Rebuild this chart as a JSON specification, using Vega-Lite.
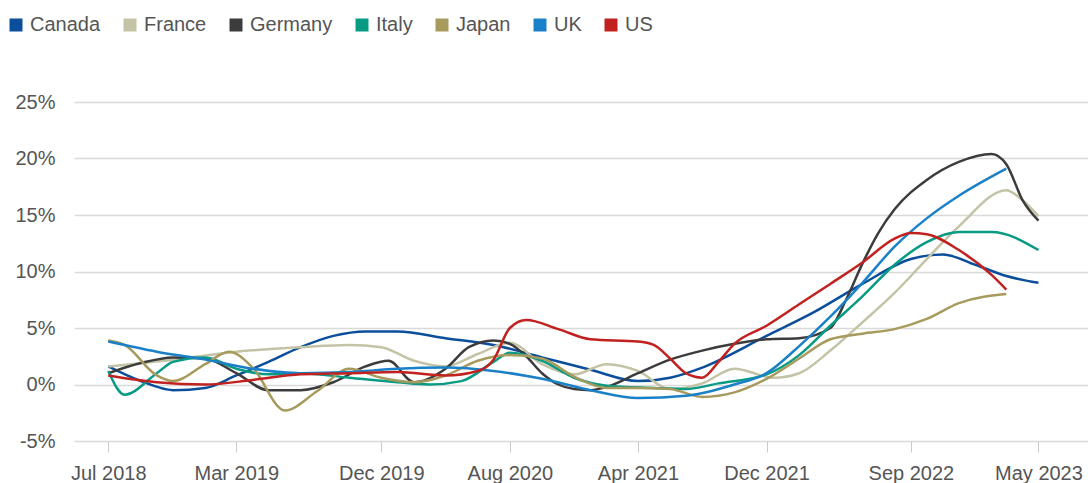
{
  "$schema": "https://vega.github.io/schema/vega-lite/v6.json",
  "width": 1014,
  "height": 339,
  "autosize": {"type": "none"},
  "padding": {"left": 74, "top": 102, "right": 0, "bottom": 42},
  "background": "white",
  "config": {
    "view": {"stroke": null},
    "font": "Liberation Sans",
    "text": {"font": "Liberation Sans"}
  },
  "data": {"values": [
    {"c":"Canada","d":"2018-07-01","v":1.6},
    {"c":"Canada","d":"2018-09-01","v":0.3},
    {"c":"Canada","d":"2018-11-01","v":-0.5},
    {"c":"Canada","d":"2019-01-01","v":-0.3},
    {"c":"Canada","d":"2019-03-01","v":0.8},
    {"c":"Canada","d":"2019-05-01","v":2.0},
    {"c":"Canada","d":"2019-07-01","v":3.3},
    {"c":"Canada","d":"2019-09-01","v":4.3},
    {"c":"Canada","d":"2019-11-01","v":4.7},
    {"c":"Canada","d":"2020-01-01","v":4.7},
    {"c":"Canada","d":"2020-04-01","v":4.1},
    {"c":"Canada","d":"2020-07-01","v":3.5},
    {"c":"Canada","d":"2020-10-01","v":2.4},
    {"c":"Canada","d":"2021-01-01","v":1.3},
    {"c":"Canada","d":"2021-04-01","v":0.3},
    {"c":"Canada","d":"2021-06-01","v":0.6},
    {"c":"Canada","d":"2021-08-01","v":1.5},
    {"c":"Canada","d":"2021-12-01","v":4.3},
    {"c":"Canada","d":"2022-03-01","v":6.4},
    {"c":"Canada","d":"2022-06-01","v":8.9},
    {"c":"Canada","d":"2022-09-01","v":11.1},
    {"c":"Canada","d":"2022-11-01","v":11.5},
    {"c":"Canada","d":"2023-01-01","v":10.6},
    {"c":"Canada","d":"2023-03-01","v":9.6},
    {"c":"Canada","d":"2023-05-01","v":9.0},

    {"c":"France","d":"2018-07-01","v":1.6},
    {"c":"France","d":"2018-11-01","v":2.2},
    {"c":"France","d":"2019-03-01","v":2.9},
    {"c":"France","d":"2019-07-01","v":3.3},
    {"c":"France","d":"2019-10-01","v":3.5},
    {"c":"France","d":"2019-12-01","v":3.3},
    {"c":"France","d":"2020-02-01","v":2.1},
    {"c":"France","d":"2020-04-01","v":1.6},
    {"c":"France","d":"2020-06-01","v":2.7},
    {"c":"France","d":"2020-08-01","v":3.7},
    {"c":"France","d":"2020-10-01","v":1.8},
    {"c":"France","d":"2020-12-01","v":0.9},
    {"c":"France","d":"2021-02-01","v":1.8},
    {"c":"France","d":"2021-04-01","v":1.2},
    {"c":"France","d":"2021-06-01","v":-0.4},
    {"c":"France","d":"2021-08-01","v":0.1},
    {"c":"France","d":"2021-10-01","v":1.4},
    {"c":"France","d":"2021-12-15","v":0.6},
    {"c":"France","d":"2022-02-01","v":1.0},
    {"c":"France","d":"2022-04-01","v":3.0},
    {"c":"France","d":"2022-06-01","v":5.5},
    {"c":"France","d":"2022-08-01","v":8.1},
    {"c":"France","d":"2022-10-01","v":11.1},
    {"c":"France","d":"2022-12-01","v":14.0},
    {"c":"France","d":"2023-03-01","v":17.2},
    {"c":"France","d":"2023-04-01","v":16.3},
    {"c":"France","d":"2023-05-01","v":14.9},

    {"c":"Germany","d":"2018-07-01","v":1.0},
    {"c":"Germany","d":"2018-09-01","v":1.9},
    {"c":"Germany","d":"2018-11-01","v":2.4},
    {"c":"Germany","d":"2019-01-01","v":2.3},
    {"c":"Germany","d":"2019-03-01","v":1.0},
    {"c":"Germany","d":"2019-05-01","v":-0.5},
    {"c":"Germany","d":"2019-07-01","v":-0.5},
    {"c":"Germany","d":"2019-09-01","v":0.2},
    {"c":"Germany","d":"2019-11-01","v":1.6},
    {"c":"Germany","d":"2019-12-15","v":2.1},
    {"c":"Germany","d":"2020-02-01","v":0.2},
    {"c":"Germany","d":"2020-04-01","v":1.4},
    {"c":"Germany","d":"2020-05-15","v":3.3},
    {"c":"Germany","d":"2020-07-01","v":3.9},
    {"c":"Germany","d":"2020-08-01","v":3.6},
    {"c":"Germany","d":"2020-09-01","v":2.5},
    {"c":"Germany","d":"2020-10-01","v":1.0},
    {"c":"Germany","d":"2020-11-01","v":0.0},
    {"c":"Germany","d":"2020-12-01","v":-0.4},
    {"c":"Germany","d":"2021-01-01","v":-0.5},
    {"c":"Germany","d":"2021-02-01","v":-0.2},
    {"c":"Germany","d":"2021-04-01","v":1.0},
    {"c":"Germany","d":"2021-06-01","v":2.2},
    {"c":"Germany","d":"2021-08-01","v":3.0},
    {"c":"Germany","d":"2021-10-01","v":3.6},
    {"c":"Germany","d":"2021-12-01","v":4.0},
    {"c":"Germany","d":"2022-02-01","v":4.1},
    {"c":"Germany","d":"2022-04-01","v":5.0},
    {"c":"Germany","d":"2022-05-01","v":7.5},
    {"c":"Germany","d":"2022-06-01","v":10.7},
    {"c":"Germany","d":"2022-07-01","v":13.4},
    {"c":"Germany","d":"2022-08-01","v":15.5},
    {"c":"Germany","d":"2022-10-01","v":18.1},
    {"c":"Germany","d":"2022-12-01","v":19.7},
    {"c":"Germany","d":"2023-02-01","v":20.4},
    {"c":"Germany","d":"2023-03-01","v":19.5},
    {"c":"Germany","d":"2023-04-01","v":16.3},
    {"c":"Germany","d":"2023-05-01","v":14.5},

    {"c":"Italy","d":"2018-07-01","v":1.2},
    {"c":"Italy","d":"2018-08-01","v":-0.9},
    {"c":"Italy","d":"2018-10-01","v":1.0},
    {"c":"Italy","d":"2018-11-01","v":2.0},
    {"c":"Italy","d":"2019-01-01","v":2.4},
    {"c":"Italy","d":"2019-03-01","v":1.4},
    {"c":"Italy","d":"2019-05-01","v":0.9},
    {"c":"Italy","d":"2019-07-01","v":1.0},
    {"c":"Italy","d":"2019-10-01","v":0.6},
    {"c":"Italy","d":"2020-01-01","v":0.2},
    {"c":"Italy","d":"2020-03-01","v":0.0},
    {"c":"Italy","d":"2020-05-01","v":0.3},
    {"c":"Italy","d":"2020-07-01","v":2.0},
    {"c":"Italy","d":"2020-08-01","v":2.8},
    {"c":"Italy","d":"2020-10-01","v":2.1},
    {"c":"Italy","d":"2020-12-01","v":0.6},
    {"c":"Italy","d":"2021-02-01","v":-0.1},
    {"c":"Italy","d":"2021-05-01","v":-0.3},
    {"c":"Italy","d":"2021-07-01","v":-0.4},
    {"c":"Italy","d":"2021-09-01","v":0.1},
    {"c":"Italy","d":"2021-12-01","v":0.9},
    {"c":"Italy","d":"2022-02-01","v":2.6},
    {"c":"Italy","d":"2022-04-01","v":5.2},
    {"c":"Italy","d":"2022-06-01","v":7.8},
    {"c":"Italy","d":"2022-08-01","v":10.6},
    {"c":"Italy","d":"2022-10-01","v":12.6},
    {"c":"Italy","d":"2022-12-01","v":13.5},
    {"c":"Italy","d":"2023-02-01","v":13.5},
    {"c":"Italy","d":"2023-05-01","v":11.9},

    {"c":"Japan","d":"2018-07-01","v":3.9},
    {"c":"Japan","d":"2018-08-01","v":3.5},
    {"c":"Japan","d":"2018-10-01","v":0.8},
    {"c":"Japan","d":"2018-11-01","v":0.3},
    {"c":"Japan","d":"2019-01-01","v":1.8},
    {"c":"Japan","d":"2019-02-15","v":2.9},
    {"c":"Japan","d":"2019-04-01","v":1.5},
    {"c":"Japan","d":"2019-06-01","v":-2.3},
    {"c":"Japan","d":"2019-08-01","v":-0.6},
    {"c":"Japan","d":"2019-10-01","v":1.4},
    {"c":"Japan","d":"2019-12-01","v":0.6},
    {"c":"Japan","d":"2020-02-01","v":0.2},
    {"c":"Japan","d":"2020-04-01","v":0.8},
    {"c":"Japan","d":"2020-06-01","v":2.1},
    {"c":"Japan","d":"2020-08-01","v":2.6},
    {"c":"Japan","d":"2020-10-01","v":2.3},
    {"c":"Japan","d":"2020-12-01","v":0.7},
    {"c":"Japan","d":"2021-02-01","v":-0.3},
    {"c":"Japan","d":"2021-04-01","v":-0.3},
    {"c":"Japan","d":"2021-06-01","v":-0.4},
    {"c":"Japan","d":"2021-08-01","v":-1.1},
    {"c":"Japan","d":"2021-10-01","v":-0.7},
    {"c":"Japan","d":"2021-12-01","v":0.5},
    {"c":"Japan","d":"2022-02-01","v":2.3},
    {"c":"Japan","d":"2022-04-01","v":4.0},
    {"c":"Japan","d":"2022-06-01","v":4.5},
    {"c":"Japan","d":"2022-08-01","v":4.9},
    {"c":"Japan","d":"2022-10-01","v":5.8},
    {"c":"Japan","d":"2022-12-01","v":7.2},
    {"c":"Japan","d":"2023-03-01","v":8.0},

    {"c":"UK","d":"2018-07-01","v":3.8},
    {"c":"UK","d":"2018-10-01","v":2.9},
    {"c":"UK","d":"2019-01-01","v":2.2},
    {"c":"UK","d":"2019-04-01","v":1.4},
    {"c":"UK","d":"2019-07-01","v":1.0},
    {"c":"UK","d":"2019-10-01","v":1.1},
    {"c":"UK","d":"2020-01-01","v":1.4},
    {"c":"UK","d":"2020-04-01","v":1.5},
    {"c":"UK","d":"2020-07-01","v":1.2},
    {"c":"UK","d":"2020-10-01","v":0.5},
    {"c":"UK","d":"2021-01-01","v":-0.5},
    {"c":"UK","d":"2021-04-01","v":-1.2},
    {"c":"UK","d":"2021-07-01","v":-1.0},
    {"c":"UK","d":"2021-10-01","v":0.0},
    {"c":"UK","d":"2021-12-01","v":1.0},
    {"c":"UK","d":"2022-02-01","v":3.4},
    {"c":"UK","d":"2022-04-01","v":6.0},
    {"c":"UK","d":"2022-06-01","v":9.0},
    {"c":"UK","d":"2022-08-01","v":12.2},
    {"c":"UK","d":"2022-10-01","v":14.7},
    {"c":"UK","d":"2022-12-01","v":16.7},
    {"c":"UK","d":"2023-03-01","v":19.1},

    {"c":"US","d":"2018-07-01","v":0.8},
    {"c":"US","d":"2018-10-01","v":0.2},
    {"c":"US","d":"2019-01-01","v":0.0},
    {"c":"US","d":"2019-04-01","v":0.4},
    {"c":"US","d":"2019-07-01","v":0.9},
    {"c":"US","d":"2019-10-01","v":1.0},
    {"c":"US","d":"2020-01-01","v":1.1},
    {"c":"US","d":"2020-04-01","v":0.8},
    {"c":"US","d":"2020-06-01","v":1.2},
    {"c":"US","d":"2020-07-01","v":2.2},
    {"c":"US","d":"2020-08-01","v":5.0},
    {"c":"US","d":"2020-09-01","v":5.7},
    {"c":"US","d":"2020-11-01","v":4.9},
    {"c":"US","d":"2021-01-01","v":4.0},
    {"c":"US","d":"2021-04-01","v":3.8},
    {"c":"US","d":"2021-05-01","v":3.5},
    {"c":"US","d":"2021-06-01","v":2.3},
    {"c":"US","d":"2021-07-01","v":1.0},
    {"c":"US","d":"2021-08-01","v":0.6},
    {"c":"US","d":"2021-09-01","v":2.0},
    {"c":"US","d":"2021-10-01","v":3.6},
    {"c":"US","d":"2021-12-01","v":5.2},
    {"c":"US","d":"2022-02-01","v":7.1},
    {"c":"US","d":"2022-04-01","v":8.9},
    {"c":"US","d":"2022-06-01","v":10.8},
    {"c":"US","d":"2022-08-01","v":12.9},
    {"c":"US","d":"2022-09-01","v":13.4},
    {"c":"US","d":"2022-10-01","v":13.3},
    {"c":"US","d":"2022-12-01","v":11.9},
    {"c":"US","d":"2023-02-01","v":9.7},
    {"c":"US","d":"2023-03-01","v":8.4}
  ]},
  "mark": {"type": "line", "interpolate": "monotone", "strokeWidth": 2.5},
  "encoding": {
    "x": {
      "field": "d", "type": "temporal",
      "scale": {"type": "utc", "domain": [
        {"year": 2018, "month": 4, "date": 27, "utc": true},
        {"year": 2023, "month": 8, "date": 3, "utc": true}
      ]},
      "axis": {
        "title": null,
        "values": [
          {"year": 2018, "month": 7, "date": 1, "utc": true},
          {"year": 2019, "month": 3, "date": 1, "utc": true},
          {"year": 2019, "month": 12, "date": 1, "utc": true},
          {"year": 2020, "month": 8, "date": 1, "utc": true},
          {"year": 2021, "month": 4, "date": 1, "utc": true},
          {"year": 2021, "month": 12, "date": 1, "utc": true},
          {"year": 2022, "month": 9, "date": 1, "utc": true},
          {"year": 2023, "month": 5, "date": 1, "utc": true}
        ],
        "format": "%b %Y",
        "grid": false,
        "domain": false,
        "ticks": true,
        "tickColor": "#cccccc",
        "tickSize": 11,
        "tickWidth": 1,
        "labelPadding": 11,
        "labelFontSize": 20,
        "labelColor": "#555555",
        "labelFont": "Liberation Sans",
        "labelFlush": false,
        "labelOverlap": false,
        "labelBound": false
      }
    },
    "y": {
      "field": "v", "type": "quantitative",
      "scale": {"domain": [-5, 25], "nice": false, "zero": false},
      "axis": {
        "title": null,
        "values": [-5, 0, 5, 10, 15, 20, 25],
        "labelExpr": "datum.value + '%'",
        "domain": false,
        "ticks": false,
        "labelPadding": 19,
        "labelFontSize": 20,
        "labelColor": "#555555",
        "labelFont": "Liberation Sans",
        "gridColor": "#d9d9d9",
        "gridWidth": 1.5
      }
    },
    "color": {
      "field": "c", "type": "nominal",
      "scale": {
        "domain": ["Canada", "France", "Germany", "Italy", "Japan", "UK", "US"],
        "range": ["#0b4f9c", "#c4c3a6", "#3c3c3c", "#079b84", "#a69a5d", "#1a80c8", "#c1211f"]
      },
      "legend": {
        "title": null,
        "orient": "none",
        "legendX": -68,
        "legendY": -87,
        "direction": "horizontal",
        "columns": 7,
        "padding": 0,
        "columnPadding": 19,
        "symbolType": "square",
        "symbolSize": 169,
        "symbolStrokeWidth": 0,
        "labelFontSize": 20,
        "labelColor": "#555555",
        "labelFont": "Liberation Sans",
        "labelOffset": 4,
        "encode": {
          "symbols": {"update": {"fill": {"scale": "color", "field": "value"}, "stroke": {"value": "transparent"}, "opacity": {"value": 1}}}
        }
      }
    }
  }
}
